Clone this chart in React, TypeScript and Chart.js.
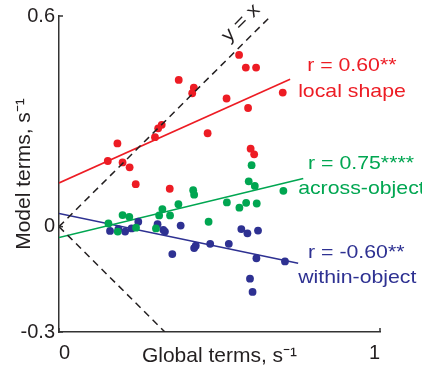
import React, { useEffect, useRef } from "react";
import { Chart, registerables } from "chart.js";

Chart.register(...registerables);

// ---- data ----
const xTickValues = [0, 1];
const yTickValues = [-0.3, 0, 0.6];

const localShapeX = [0.561, 0.582, 0.614, 0.373, 0.42, 0.415, 0.697, 0.522, 0.589, 0.32, 0.309, 0.299, 0.463, 0.182, 0.152, 0.198, 0.22, 0.597, 0.608, 0.239, 0.345];
const localShapeY = [0.489, 0.453, 0.453, 0.418, 0.396, 0.38, 0.382, 0.365, 0.338, 0.29, 0.28, 0.255, 0.266, 0.237, 0.187, 0.183, 0.169, 0.222, 0.206, 0.121, 0.108];

const acrossObjectX = [0.6, 0.591, 0.61, 0.699, 0.418, 0.421, 0.372, 0.523, 0.562, 0.583, 0.616, 0.322, 0.312, 0.346, 0.198, 0.219, 0.154, 0.24, 0.183, 0.302, 0.466];
const acrossObjectY = [0.175, 0.129, 0.116, 0.102, 0.104, 0.091, 0.064, 0.069, 0.054, 0.068, 0.066, 0.05, 0.032, 0.032, 0.033, 0.028, 0.009, -0.003, -0.014, -0.005, 0.014];

const withinObjectX = [0.247, 0.159, 0.185, 0.206, 0.226, 0.307, 0.325, 0.33, 0.379, 0.353, 0.426, 0.421, 0.471, 0.529, 0.568, 0.587, 0.62, 0.615, 0.704, 0.595, 0.603];
const withinObjectY = [0.014, -0.012, -0.007, -0.014, -0.005, 0.007, -0.009, -0.014, 0.003, -0.078, -0.054, -0.061, -0.049, -0.049, -0.007, -0.019, -0.011, -0.09, -0.099, -0.148, -0.186];

// regression fits (end points)
const localFitX = [0, 0.72];
const localFitY = [0.1245, 0.42];
const acrossFitX = [0, 0.761];
const acrossFitY = [-0.031, 0.137];
const withinFitX = [0, 0.745];
const withinFitY = [0.0377, -0.104];

// reference dashed lines
const identityX = [0, 0.66];
const identityY = [0, 0.6];
const mirrorX = [0, 0.33];
const mirrorY = [0, -0.3];

const fitLabels = ["r = 0.60**", "r = 0.75****", "r = -0.60**"];
const groupNames = ["local shape", "across-object", "within-object"];
const identityLabel = "y = x";
const xTitle = "Global terms, s\u207B\u00B9";
const yTitle = "Model terms, s\u207B\u00B9";

// ---- styles / layout ----
const RED = "#ED1C24";
const GREEN = "#00A651";
const NAVY = "#2E3192";
const INK = "#231F20";
const FONT = "'Liberation Sans', Arial, Helvetica, sans-serif";

const annotationAnchors = [
  { rX: 0.773, rY: 0.459, nX: 0.745, nY: 0.383, color: RED },
  { rX: 0.776, rY: 0.18, nX: 0.745, nY: 0.109, color: GREEN },
  { rX: 0.776, rY: -0.074, nX: 0.745, nY: -0.145, color: NAVY },
];
const identityLabelAnchor = { x: 0.567, y: 0.58 };

const pts = (xs: number[], ys: number[]) => xs.map((x, i) => ({ x, y: ys[i] }));

const annotationPlugin = {
  id: "annotations",
  afterDraw(chart: any) {
    const { ctx, scales } = chart;
    const sx = scales.x;
    const sy = scales.y;
    ctx.save();
    // inward tick marks
    ctx.strokeStyle = "#333";
    ctx.lineWidth = 1.5;
    xTickValues.forEach((v) => {
      const px = sx.getPixelForValue(v);
      ctx.beginPath();
      ctx.moveTo(px, sy.bottom);
      ctx.lineTo(px, sy.bottom - 4);
      ctx.stroke();
    });
    yTickValues.forEach((v) => {
      const py = sy.getPixelForValue(v);
      ctx.beginPath();
      ctx.moveTo(sx.left, py);
      ctx.lineTo(sx.left + 4, py);
      ctx.stroke();
    });
    // text labels
    ctx.textBaseline = "middle";
    ctx.textAlign = "left";
    ctx.font = `19px ${FONT}`;
    const drawText = (t: string, x: number, y: number, color: string) => {
      ctx.save();
      ctx.translate(x, y);
      ctx.scale(1.12, 1);
      ctx.fillStyle = color;
      ctx.fillText(t, 0, 0);
      ctx.restore();
    };
    annotationAnchors.forEach((a, i) => {
      drawText(fitLabels[i], sx.getPixelForValue(a.rX), sy.getPixelForValue(a.rY), a.color);
      drawText(groupNames[i], sx.getPixelForValue(a.nX), sy.getPixelForValue(a.nY), a.color);
    });
    ctx.save();
    ctx.translate(sx.getPixelForValue(identityLabelAnchor.x), sy.getPixelForValue(identityLabelAnchor.y));
    ctx.rotate(-Math.PI / 4);
    ctx.textAlign = "center";
    ctx.scale(1.12, 1);
    ctx.fillStyle = INK;
    ctx.fillText(identityLabel, 0, 0);
    ctx.restore();
    ctx.restore();
  },
};

export default function App() {
  const canvasRef = useRef<HTMLCanvasElement | null>(null);

  useEffect(() => {
    if (!canvasRef.current) return;
    const dashed = (xs: number[], ys: number[]) => ({
      type: "line" as const,
      data: pts(xs, ys),
      borderColor: INK,
      borderWidth: 1.5,
      borderDash: [7, 5],
      pointRadius: 0,
      fill: false,
    });
    const fit = (xs: number[], ys: number[], color: string) => ({
      type: "line" as const,
      data: pts(xs, ys),
      borderColor: color,
      borderWidth: 1.6,
      pointRadius: 0,
      fill: false,
    });
    const dots = (xs: number[], ys: number[], color: string) => ({
      type: "scatter" as const,
      data: pts(xs, ys),
      backgroundColor: color,
      borderWidth: 0,
      pointRadius: 3.9,
      pointHoverRadius: 3.9,
    });
    const chart = new Chart(canvasRef.current, {
      type: "scatter",
      data: {
        datasets: [
          dashed(identityX, identityY),
          dashed(mirrorX, mirrorY),
          dots(localShapeX, localShapeY, RED),
          dots(acrossObjectX, acrossObjectY, GREEN),
          dots(withinObjectX, withinObjectY, NAVY),
          fit(localFitX, localFitY, RED),
          fit(acrossFitX, acrossFitY, GREEN),
          fit(withinFitX, withinFitY, NAVY),
        ] as any,
      },
      options: {
        responsive: false,
        animation: false,
        events: [],
        layout: { padding: { left: 0, top: 13, right: 42, bottom: 0 } },
        plugins: { legend: { display: false }, tooltip: { enabled: false } },
        scales: {
          x: {
            type: "linear",
            min: 0,
            max: 1,
            afterBuildTicks: (s: any) => {
              s.ticks = xTickValues.map((v) => ({ value: v }));
            },
            afterFit: (s: any) => {
              s.height = 38;
            },
            grid: { display: false, drawTicks: false },
            border: { display: true, color: "#333", width: 1.5 },
            ticks: {
              align: "inner",
              padding: 9,
              color: INK,
              font: { family: FONT, size: 20 },
              callback: (v: any) => String(v),
            },
            title: {
              display: true,
              text: xTitle,
              color: INK,
              font: { family: FONT, size: 21, lineHeight: 1.2 },
              padding: { top: 0, bottom: 1 },
            },
          },
          y: {
            type: "linear",
            min: -0.3,
            max: 0.6,
            afterBuildTicks: (s: any) => {
              s.ticks = yTickValues.map((v) => ({ value: v }));
            },
            afterFit: (s: any) => {
              s.width = 59;
            },
            grid: { display: false, drawTicks: false },
            border: { display: true, color: "#333", width: 1.5 },
            ticks: {
              padding: 4,
              color: INK,
              font: { family: FONT, size: 20 },
              callback: (v: any) => String(v),
            },
            title: {
              display: true,
              text: yTitle,
              color: INK,
              font: { family: FONT, size: 21, lineHeight: 1.2 },
              padding: { top: 12, bottom: 0 },
            },
          },
        },
      },
      plugins: [annotationPlugin],
    });
    return () => chart.destroy();
  }, []);

  return (
    <div style={{ position: "fixed", left: 0, top: 0, width: 422, height: 370, background: "#fff" }}>
      <canvas ref={canvasRef} width={422} height={370} />
    </div>
  );
}
